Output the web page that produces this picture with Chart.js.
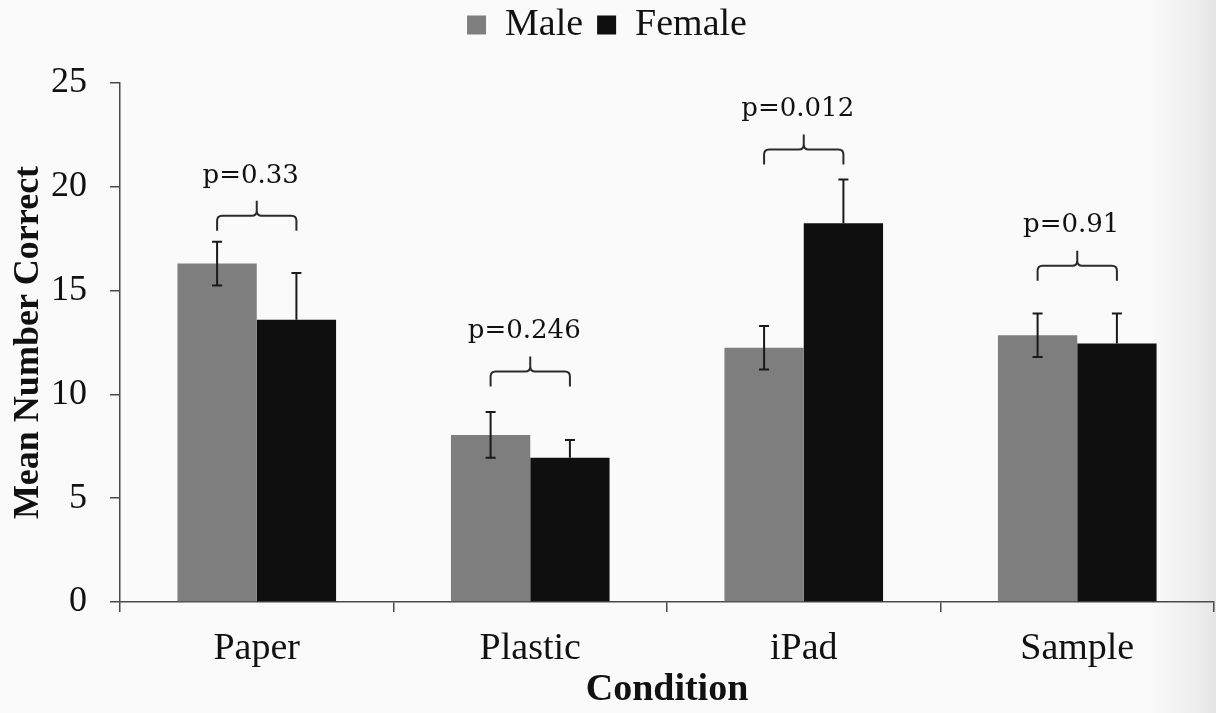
<!DOCTYPE html>
<html>
<head>
<meta charset="utf-8">
<script src="https://cdn.jsdelivr.net/npm/chart.js@4.4.0/dist/chart.umd.min.js"></script>
<style>
  html, body { margin: 0; padding: 0; background: #fafafa; }
  #wrap {
    width: 1216px; height: 713px;
    background: linear-gradient(to right, #fafafa 0px, #fafafa 1150px, #ececec 1200px, #e4e4e4 1216px);
  }
</style>
</head>
<body>
<div id="wrap"><canvas id="chart" width="1216" height="713"></canvas></div>
<script>
const conditions = ["Paper", "Plastic", "iPad", "Sample"];
const maleMeans = [16.3, 8.05, 12.25, 12.85];
const femaleMeans = [13.6, 6.95, 18.25, 12.45];
const maleErr = [1.05, 1.1, 1.05, 1.05];
const femaleErr = [2.25, 0.85, 2.1, 1.45];
const pLabels = ["p=0.33", "p=0.246", "p=0.012", "p=0.91"];
const bracketLevel = [18.6, 11.1, 21.8, 16.2];   // where each p bracket sits (y units)

const serif = "'Liberation Serif', 'Times New Roman', serif";
const axisColor = "#4a4a4a";

// error bars drawn from the bar centres (female ones only show above the bar)
const errorBars = {
  id: "errorBars",
  afterDatasetsDraw(chart) {
    const ctx = chart.ctx;
    const y = chart.scales.y;
    const errs = [maleErr, femaleErr];
    ctx.save();
    ctx.strokeStyle = "#1a1a1a";
    ctx.lineWidth = 2;
    chart.data.datasets.forEach((ds, di) => {
      chart.getDatasetMeta(di).data.forEach((bar, i) => {
        const v = ds.data[i], e = errs[di][i];
        const top = y.getPixelForValue(v + e);
        const bot = di === 0 ? y.getPixelForValue(v - e) : bar.y;
        ctx.beginPath();
        ctx.moveTo(bar.x, top); ctx.lineTo(bar.x, bot);
        ctx.moveTo(bar.x - 5, top); ctx.lineTo(bar.x + 5, top);
        if (di === 0) {
          ctx.moveTo(bar.x - 5, bot); ctx.lineTo(bar.x + 5, bot);
        }
        ctx.stroke();
      });
    });
    ctx.restore();
  }
};

// curly brackets + p values over each pair
const brackets = {
  id: "brackets",
  afterDatasetsDraw(chart) {
    const ctx = chart.ctx;
    const y = chart.scales.y;
    const m = chart.getDatasetMeta(0).data;
    const f = chart.getDatasetMeta(1).data;
    ctx.save();
    ctx.strokeStyle = "#2a2a2a";
    ctx.lineWidth = 2;
    pLabels.forEach((txt, i) => {
      const x1 = m[i].x, x2 = f[i].x, xc = (x1 + x2) / 2;
      const yh = y.getPixelForValue(bracketLevel[i]);
      ctx.beginPath();
      ctx.moveTo(x1, yh + 15);
      ctx.lineTo(x1, yh + 5);
      ctx.quadraticCurveTo(x1, yh, x1 + 5, yh);
      ctx.lineTo(xc - 5, yh);
      ctx.quadraticCurveTo(xc, yh, xc, yh - 5);
      ctx.lineTo(xc, yh - 15);
      ctx.moveTo(xc, yh - 5);
      ctx.quadraticCurveTo(xc, yh, xc + 5, yh);
      ctx.lineTo(x2 - 5, yh);
      ctx.quadraticCurveTo(x2, yh, x2, yh + 5);
      ctx.lineTo(x2, yh + 15);
      ctx.stroke();

      ctx.fillStyle = "#111";
      ctx.font = "26px 'DejaVu Serif', serif";
      ctx.textAlign = "center";
      ctx.textBaseline = "middle";
      ctx.fillText(txt, xc - 6, yh - 40);
    });
    ctx.restore();
  }
};

const legendHeight = {
  id: "legendHeight",
  beforeInit(chart) {
    const fit = chart.legend.fit;
    chart.legend.fit = function () {
      fit.call(this);
      this.height = 91;
    };
  }
};

new Chart(document.getElementById("chart"), {
  type: "bar",
  data: {
    labels: conditions,
    datasets: [
      { label: "Male", data: maleMeans, backgroundColor: "#7e7e7e" },
      { label: "Female", data: femaleMeans, backgroundColor: "#0f0f0f" }
    ]
  },
  options: {
    responsive: false,
    animation: false,
    categoryPercentage: 0.58,
    barPercentage: 1.0,
    layout: { padding: { top: -8, right: 2, left: 0, bottom: 0 } },
    plugins: {
      legend: {
        position: "top",
        labels: {
          color: "#111",
          font: { family: serif, size: 38 },
          boxWidth: 19,
          boxHeight: 19,
          padding: 14
        }
      },
      tooltip: { enabled: false }
    },
    scales: {
      x: {
        afterFit: (scale) => { scale.height = 111; },
        grid: { display: true, drawOnChartArea: false, drawTicks: true, tickLength: 10, color: axisColor, lineWidth: 1.5, offset: true },
        border: { display: true, color: axisColor, width: 1.5 },
        ticks: { color: "#111", font: { family: serif, size: 38 }, padding: 14 },
        title: {
          display: true, text: "Condition", color: "#111",
          font: { family: serif, size: 38, weight: "bold" },
          padding: { top: 0, bottom: 0 }
        }
      },
      y: {
        min: 0, max: 25,
        afterFit: (scale) => { scale.width = 120; },
        grid: { display: true, drawOnChartArea: false, drawTicks: true, tickLength: 10, color: axisColor, lineWidth: 1.5 },
        border: { display: true, color: axisColor, width: 1.5 },
        ticks: { stepSize: 5, color: "#111", font: { family: serif, size: 36 }, padding: 23 },
        title: {
          display: true, text: "Mean Number Correct", color: "#111",
          font: { family: serif, size: 36, weight: "bold" },
          padding: { top: 7, bottom: 0 }
        }
      }
    }
  },
  plugins: [legendHeight, errorBars, brackets]
});
</script>
</body>
</html>
